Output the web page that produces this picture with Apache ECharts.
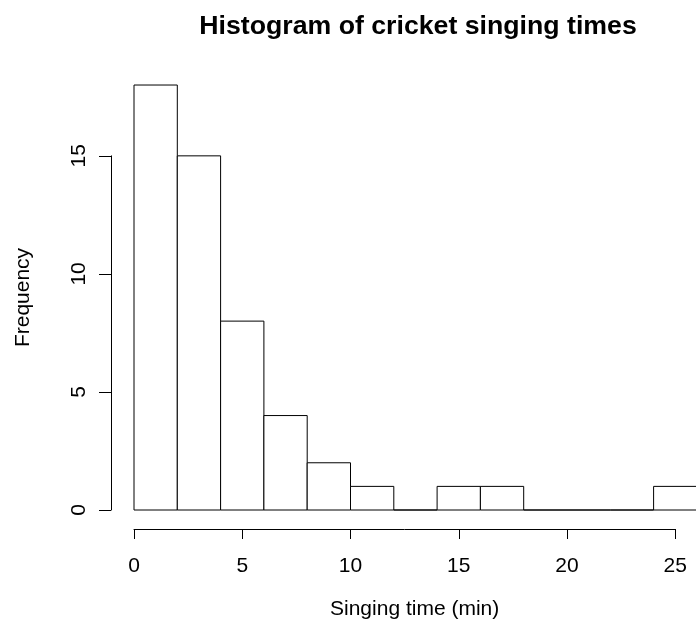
<!DOCTYPE html>
<html>
<head>
<meta charset="utf-8">
<title>Histogram of cricket singing times</title>
<script src="https://cdn.jsdelivr.net/npm/echarts@6/dist/echarts.min.js"></script>
<style>
  html, body { margin: 0; padding: 0; background: #fff; }
  #main { width: 696px; height: 626px; }
</style>
</head>
<body>
<div id="main"></div>
<script>
// bin edges (minutes) and the count in each bin
var breaks = [0, 2, 4, 6, 8, 10, 12, 14, 16, 18, 20, 22, 24, 26];
var counts = [18, 15, 8, 4, 2, 1, 0, 1, 1, 0, 0, 0, 1];
var xTicks = [0, 5, 10, 15, 20, 25];
var yTicks = [0, 5, 10, 15];

var font = '"Liberation Sans", Arial, Helvetica, sans-serif';

var bins = counts.map(function (c, i) {
  return [breaks[i], breaks[i + 1], c];
});

// R pads the data range by 4% on each side
var xMin = breaks[0], xMax = breaks[breaks.length - 1];
var yMax = Math.max.apply(null, counts);
var xPad = (xMax - xMin) * 0.04, yPad = yMax * 0.04;

var pxX = 21.65, pxY = 23.61;   // pixels per unit
var x0 = 134, y0 = 510;         // where 0,0 sits
var W = 696;

// the plot region runs past the right edge of the picture, so stop the grid at the edge
var gridLeft = x0 - xPad * pxX;
var xRight = xMin - xPad + (W - gridLeft) / pxX;

var myChart = echarts.init(document.getElementById('main'));
myChart.setOption({
  animation: false,
  backgroundColor: '#fff',
  title: {
    text: 'Histogram of cricket singing times',
    left: 413,
    top: 8,
    textAlign: 'center',
    textStyle: { fontFamily: font, fontSize: 26.7, fontWeight: 'bold', color: '#000' }
  },
  grid: [
    // plot region (bars)
    { left: gridLeft, top: y0 - (yMax + yPad) * pxY,
      right: 0, height: (yMax + 2 * yPad) * pxY },
    // x axis line
    { left: x0, top: 60, width: xTicks[xTicks.length - 1] * pxX, height: 469 },
    // y axis line
    { left: 111, top: y0 - yTicks[yTicks.length - 1] * pxY,
      width: 500, height: yTicks[yTicks.length - 1] * pxY }
  ],
  xAxis: [
    { gridIndex: 0, type: 'value', min: xMin - xPad, max: xRight,
      axisLine: { show: false }, axisTick: { show: false },
      axisLabel: { show: false }, splitLine: { show: false } },
    { gridIndex: 1, type: 'value', min: xTicks[0], max: xTicks[xTicks.length - 1], interval: 5,
      name: 'Singing time (min)', nameLocation: 'middle', nameGap: 70,
      nameTextStyle: { fontFamily: font, fontSize: 21, color: '#000', padding: [0, 0, 0, 20] },
      axisLine: { show: true, onZero: false, lineStyle: { color: '#000', width: 1 } },
      axisTick: { show: true, length: 10, lineStyle: { color: '#000' } },
      axisLabel: { margin: 27, fontFamily: font, fontSize: 21, color: '#000', showMinLabel: true, showMaxLabel: true },
      splitLine: { show: false } },
    { gridIndex: 2, type: 'value', show: false }
  ],
  yAxis: [
    { gridIndex: 0, type: 'value', min: -yPad, max: yMax + yPad,
      name: 'Frequency', nameLocation: 'middle', nameGap: 78,
      nameTextStyle: { fontFamily: font, fontSize: 21, color: '#000' },
      axisLine: { show: false }, axisTick: { show: false },
      axisLabel: { show: false }, splitLine: { show: false } },
    { gridIndex: 1, type: 'value', show: false },
    { gridIndex: 2, type: 'value', min: yTicks[0], max: yTicks[yTicks.length - 1], interval: 5,
      axisLine: { show: true, onZero: false, lineStyle: { color: '#000', width: 1 } },
      axisTick: { show: true, length: 12, lineStyle: { color: '#000' } },
      axisLabel: { margin: 21, rotate: 90, fontFamily: font, fontSize: 21, color: '#000', showMinLabel: true, showMaxLabel: true },
      splitLine: { show: false } }
  ],
  series: [{
    type: 'custom',
    xAxisIndex: 0,
    yAxisIndex: 0,
    clip: false,
    encode: { x: [0, 1], y: 2 },
    data: bins,
    renderItem: function (params, api) {
      var p0 = api.coord([api.value(0), api.value(2)]);
      var p1 = api.coord([api.value(1), 0]);
      return {
        type: 'rect',
        shape: { x: p0[0], y: p0[1], width: p1[0] - p0[0], height: p1[1] - p0[1] },
        style: { fill: '#fff', stroke: '#000', lineWidth: 1 }
      };
    }
  }]
});
</script>
</body>
</html>
